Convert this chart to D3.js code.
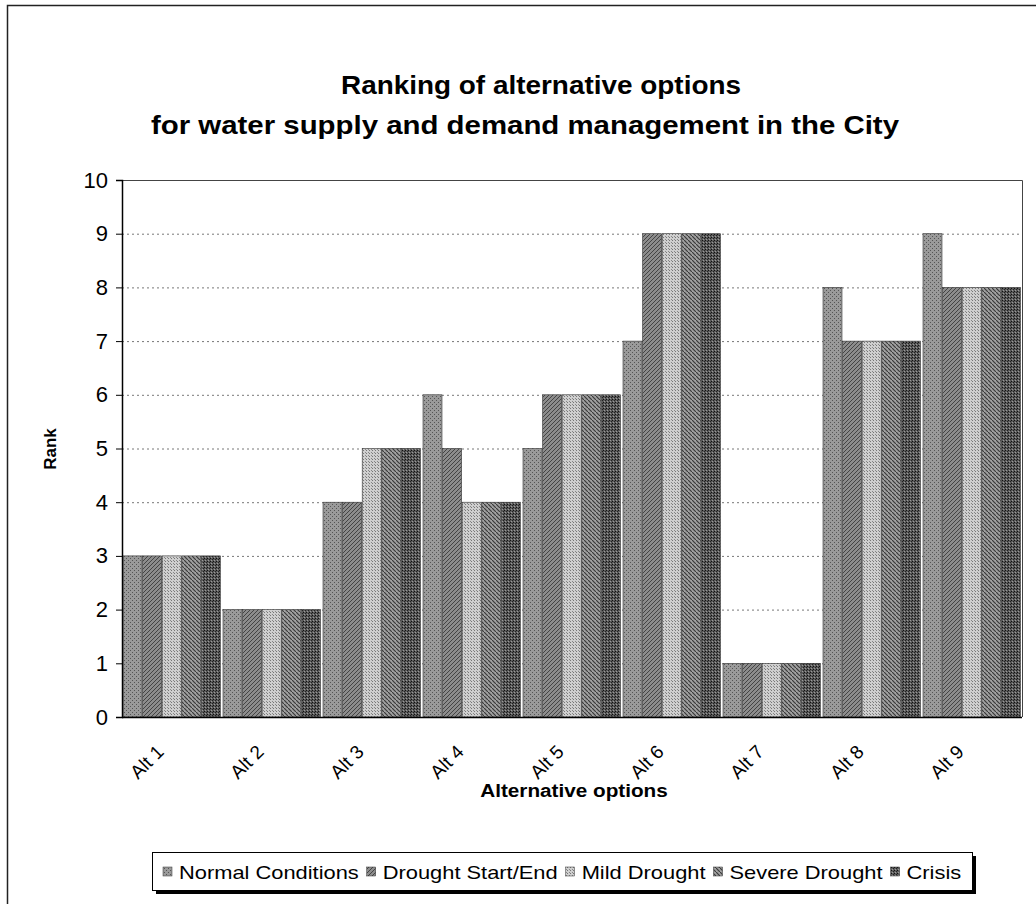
<!DOCTYPE html>
<html><head><meta charset="utf-8">
<script src="https://cdn.jsdelivr.net/npm/d3@7"></script>
<style>body{margin:0;background:#fff}svg{display:block;font-family:Arial,"Liberation Sans",sans-serif}</style>
</head><body><svg id="c" width="1036" height="904"></svg>
<script>
const categories = ["Alt 1","Alt 2","Alt 3","Alt 4","Alt 5","Alt 6","Alt 7","Alt 8","Alt 9"];
const seriesNames = ["Normal Conditions","Drought Start/End","Mild Drought","Severe Drought","Crisis"];
const normalConditions = [3,2,4,6,5,7,1,8,9];
const droughtStartEnd  = [3,2,4,5,6,9,1,7,8];
const mildDrought      = [3,2,5,4,6,9,1,7,8];
const severeDrought    = [3,2,5,4,6,9,1,7,8];
const crisis           = [3,2,5,4,6,9,1,7,8];
const seriesValues = [normalConditions, droughtStartEnd, mildDrought, severeDrought, crisis];
const yTicks = [0,1,2,3,4,5,6,7,8,9,10];
const titleLines = ["Ranking of alternative options","for water supply and demand management in the City"];

const svg = d3.select("#c");
const defs = svg.append("defs");
const SX = 1.15; // horizontal stretch of text seen in the scan
function stretch(sel){ sel.each(function(){ const w=this.getComputedTextLength(); d3.select(this).attr("textLength",w*SX).attr("lengthAdjust","spacingAndGlyphs"); }); }

const pats = [
  {id:"p0", bg:"#9a9a9a", draw:g=>{g.append("rect").attr("width",1).attr("height",1).attr("fill","#555");g.append("rect").attr("x",2).attr("y",2).attr("width",1).attr("height",1).attr("fill","#555");}, size:4},
  {id:"p1", bg:"#8c8c8c", draw:g=>{g.append("path").attr("d","M0,4 L4,0").attr("stroke","#444").attr("stroke-width",1);}, size:4},
  {id:"p2", bg:"#cfcfcf", draw:g=>{g.append("rect").attr("width",1).attr("height",1).attr("fill","#777");g.append("rect").attr("x",2).attr("y",2).attr("width",1).attr("height",1).attr("fill","#888");}, size:3},
  {id:"p3", bg:"#a0a0a0", draw:g=>{g.append("path").attr("d","M0,0 L4,4").attr("stroke","#3a3a3a").attr("stroke-width",1.2);}, size:4},
  {id:"p4", bg:"#5a5a5a", draw:g=>{g.append("rect").attr("width",1).attr("height",1).attr("fill","#111");g.append("rect").attr("x",2).attr("y",1).attr("width",1).attr("height",1).attr("fill","#222");g.append("rect").attr("x",1).attr("y",2).attr("width",1).attr("height",1).attr("fill","#999");}, size:3}
];
pats.forEach(p=>{
  const pt = defs.append("pattern").attr("id",p.id).attr("patternUnits","userSpaceOnUse").attr("width",p.size).attr("height",p.size);
  pt.append("rect").attr("width",p.size).attr("height",p.size).attr("fill",p.bg);
  p.draw(pt);
});

svg.append("rect").attr("x",7.5).attr("y",5.5).attr("width",1040).attr("height",910).attr("fill","none").attr("stroke","#222").attr("stroke-width",1.5);

const m = {left:122, right:1022, top:180, bottom:717};
const x0 = d3.scaleBand().domain(categories).range([m.left, m.right]).paddingInner(0.02).paddingOuter(0.01);
const x1 = d3.scaleBand().domain(seriesNames).range([0, x0.bandwidth()]);
const y = d3.scaleLinear().domain([0,10]).range([m.bottom, m.top]);

svg.append("g").selectAll("line").data(yTicks.filter(t=>t>0 && t<10)).join("line")
  .attr("x1",m.left).attr("x2",m.right).attr("y1",d=>y(d)+0.5).attr("y2",d=>y(d)+0.5)
  .attr("stroke","#777").attr("stroke-width",1).attr("stroke-dasharray","2,3");

const gBars = svg.append("g");
categories.forEach((c,i)=>{
  seriesNames.forEach((s,j)=>{
    const v = seriesValues[j][i];
    gBars.append("rect").attr("x",x0(c)+x1(s)).attr("y",y(v)).attr("width",x1.bandwidth()-0.6).attr("height",y(0)-y(v))
      .attr("fill",`url(#p${j})`).attr("stroke","#333").attr("stroke-width",0.6);
  });
});

svg.append("path").attr("d",`M${m.left},${m.top+0.5}H${m.right+0.5}V${m.bottom}`).attr("fill","none").attr("stroke","#444").attr("stroke-width",1);

const yAxis = d3.axisLeft(y).tickValues(yTicks).tickSize(6).tickPadding(8).tickFormat(d3.format("d"));
const ga = svg.append("g").attr("transform",`translate(${m.left},0)`).call(yAxis);
ga.select(".domain").attr("stroke","#000").attr("stroke-width",1.5);
ga.selectAll(".tick line").attr("stroke","#000");
ga.selectAll("text").attr("font-size",22).attr("font-family","Arial, 'Liberation Sans', sans-serif").attr("fill","#000");

svg.append("line").attr("x1",m.left).attr("x2",m.right).attr("y1",m.bottom+0.5).attr("y2",m.bottom+0.5).attr("stroke","#000").attr("stroke-width",1.5);
svg.append("g").selectAll("text").data(categories).join("text")
  .attr("transform",d=>`translate(${x0(d)+x0.bandwidth()/2-7},${m.bottom+36}) rotate(-45)`)
  .attr("text-anchor","end").attr("font-size",19).attr("fill","#000").text(d=>d);

svg.append("text").attr("x",574).attr("y",797).attr("text-anchor","middle").attr("font-size",18).attr("font-weight","bold").text("Alternative options").call(stretch);
svg.append("text").attr("transform","translate(56,449) rotate(-90)").attr("text-anchor","middle").attr("font-size",17).attr("font-weight","bold").text("Rank");

const titleX = [541, 525], titleW = [400, 748];
svg.append("g").selectAll("text").data(titleLines).join("text")
  .attr("x",(d,i)=>titleX[i]).attr("y",(d,i)=>94+i*40).attr("text-anchor","middle").attr("font-size",26).attr("font-weight","bold")
  .attr("textLength",(d,i)=>titleW[i]).attr("lengthAdjust","spacingAndGlyphs").text(d=>d);

const lg = svg.append("g");
const lx=152, ly=852, lw=820, lh=38;
lg.append("rect").attr("x",lx+4).attr("y",ly+4).attr("width",lw).attr("height",lh).attr("fill","#000");
lg.append("rect").attr("x",lx+0.5).attr("y",ly+0.5).attr("width",lw).attr("height",lh).attr("fill","#fff").attr("stroke","#000").attr("stroke-width",1);
let cx = lx+11;
seriesNames.forEach((s,j)=>{
  lg.append("rect").attr("x",cx).attr("y",ly+15).attr("width",9).attr("height",9).attr("fill",`url(#p${j})`).attr("stroke","#333").attr("stroke-width",0.5);
  const t = lg.append("text").attr("x",cx+16).attr("y",ly+27).attr("font-size",19).text(s);
  const w = t.node().getComputedTextLength()*SX;
  t.attr("textLength",w).attr("lengthAdjust","spacingAndGlyphs");
  cx += 16 + w + 8;
});
</script></body></html>
